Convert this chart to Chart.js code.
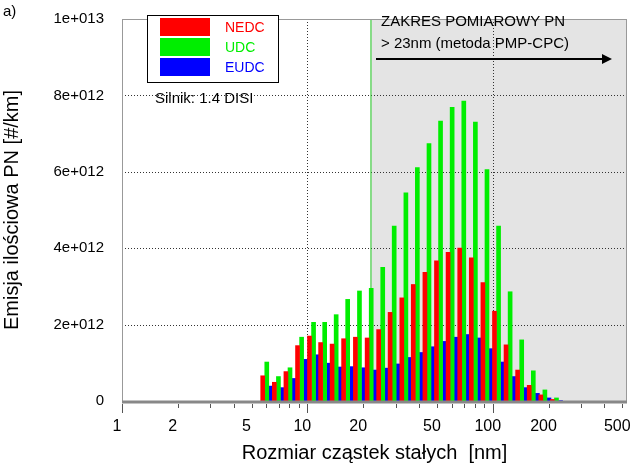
<!DOCTYPE html>
<html>
<head>
<meta charset="utf-8">
<script src="https://cdn.jsdelivr.net/npm/chart.js@4.4.0/dist/chart.umd.min.js"></script>
<style>
  body { margin: 0; background: #fff; }
  #wrap { width: 639px; height: 465px; }
</style>
</head>
<body>
<div id="wrap"><canvas id="c" width="639" height="465"></canvas></div>
<script>
// particle size bins [nm]
const sizes = [6.04, 6.98, 8.06, 9.31, 10.8, 12.4, 14.3, 16.5, 19.1, 22.1, 25.5, 29.4, 34.0,
  39.2, 45.3, 52.3, 60.4, 69.8, 80.6, 93.1, 107.5, 124.1, 143.3, 165.5, 191.1, 220.7];
// emissions in units of 1e12 #/km
const nedc = [0.66, 0.49, 0.77, 1.45, 1.70, 1.53, 1.49, 1.63, 1.67, 1.65, 1.87, 2.32, 2.70,
  3.05, 3.37, 3.67, 3.89, 4.00, 3.75, 3.10, 2.35, 1.47, 0.81, 0.41, 0.16, 0.04];
const udc = [1.02, 0.64, 0.87, 1.67, 2.06, 2.06, 2.26, 2.66, 2.88, 2.95, 3.50, 4.58, 5.45,
  6.11, 6.74, 7.33, 7.69, 7.85, 7.30, 6.06, 4.58, 2.86, 1.60, 0.79, 0.29, 0.08];
const eudc = [0.39, 0.35, 0.59, 1.09, 1.21, 0.99, 0.89, 0.90, 0.87, 0.81, 0.86, 0.97, 1.14,
  1.27, 1.42, 1.56, 1.67, 1.74, 1.65, 1.37, 1.02, 0.64, 0.35, 0.20, 0.08, 0.01];
const xTickLabels = [1, 2, 5, 10, 20, 50, 100, 200, 500];
const yTicks = [0, 2, 4, 6, 8, 10];

const FONT = 'Liberation Sans, Arial, sans-serif';
const shift = 0.022; // decades between bars in a group

function series(vals, off) {
  return vals.map((v, i) => ({ x: Math.log10(sizes[i]) + off, y: v * 1e12 }));
}

const minorTicks = [];
[1, 10, 100].forEach(d => { for (let k = 1; k <= 9; k++) if (d * k <= 500) minorTicks.push(d * k); });

const decor = {
  id: 'decor',
  beforeDatasetsDraw(chart) {
    const { ctx, chartArea: a, scales: { x, y } } = chart;
    const gx = x.getPixelForValue(Math.log10(21.9));
    ctx.save();
    ctx.fillStyle = '#e4e4e4';
    ctx.fillRect(gx, a.top, a.right - gx, a.bottom - a.top);
    ctx.strokeStyle = '#333';
    ctx.setLineDash([1, 2]);
    ctx.lineWidth = 1;
    // dotted grid, both directions
    [10, 100].forEach(v => {
      const px = Math.round(x.getPixelForValue(Math.log10(v))) + 0.5;
      ctx.beginPath(); ctx.moveTo(px, a.top); ctx.lineTo(px, a.bottom); ctx.stroke();
    });
    [2, 4, 6, 8].forEach(v => {
      const py = Math.round(y.getPixelForValue(v * 1e12)) + 0.5;
      ctx.beginPath(); ctx.moveTo(a.left, py); ctx.lineTo(a.right, py); ctx.stroke();
    });
    ctx.setLineDash([]);
    ctx.strokeStyle = '#22cc22';
    ctx.beginPath(); ctx.moveTo(gx + 0.5, a.top); ctx.lineTo(gx + 0.5, a.bottom); ctx.stroke();
    ctx.restore();
  },
  afterDraw(chart) {
    const { ctx, chartArea: a, scales: { x } } = chart;
    ctx.save();
    // frame
    ctx.strokeStyle = '#999';
    ctx.lineWidth = 1;
    ctx.strokeRect(a.left + 0.5, a.top + 0.5, a.right - a.left - 1, a.bottom - a.top);
    ctx.strokeStyle = '#888';
    ctx.lineWidth = 3;
    ctx.beginPath(); ctx.moveTo(a.left, a.bottom + 1); ctx.lineTo(a.right, a.bottom + 1); ctx.stroke();
    // x ticks
    ctx.lineWidth = 1;
    ctx.strokeStyle = '#555';
    minorTicks.forEach(v => {
      const px = Math.round(x.getPixelForValue(Math.log10(v))) + 0.5;
      const major = v === 1 || v === 10 || v === 100;
      ctx.beginPath(); ctx.moveTo(px, a.bottom + 3); ctx.lineTo(px, a.bottom + (major ? 12 : 7)); ctx.stroke();
    });
    ctx.fillStyle = '#000';
    ctx.font = '16px ' + FONT;
    ctx.textAlign = 'center';
    ctx.textBaseline = 'top';
    xTickLabels.forEach(v => ctx.fillText(String(v), x.getPixelForValue(Math.log10(v)) - 5, a.bottom + 18));
    // legend
    ctx.fillStyle = '#fff';
    ctx.fillRect(147, 15, 131, 67);
    ctx.strokeStyle = '#000';
    ctx.strokeRect(147.5, 15.5, 131, 67);
    const leg = [['NEDC', '#ff0000'], ['UDC', '#00ee00'], ['EUDC', '#0000ff']];
    ctx.font = '14px ' + FONT;
    ctx.textAlign = 'left';
    ctx.textBaseline = 'middle';
    leg.forEach((l, i) => {
      ctx.fillStyle = l[1];
      ctx.fillRect(160, 18 + i * 20, 50, 18);
      ctx.fillText(l[0], 225, 28 + i * 20);
    });
    ctx.fillStyle = '#000';
    ctx.font = '15px ' + FONT;
    ctx.fillText('Silnik: 1.4 DISI', 155, 99);
    ctx.fillText('a)', 3, 12);
    // range annotation
    ctx.fillText('ZAKRES POMIAROWY PN', 381, 22);
    ctx.fillText('> 23nm (metoda PMP-CPC)', 381, 44);
    ctx.lineWidth = 2;
    ctx.beginPath(); ctx.moveTo(376, 59); ctx.lineTo(608, 59); ctx.stroke();
    ctx.beginPath(); ctx.moveTo(612, 59); ctx.lineTo(602, 54); ctx.lineTo(602, 64); ctx.closePath(); ctx.fill();
    ctx.restore();
  }
};

new Chart(document.getElementById('c'), {
  type: 'bar',
  data: {
    datasets: [
      { label: 'NEDC', data: series(nedc, -shift), backgroundColor: '#ff0000' },
      { label: 'UDC', data: series(udc, 0), backgroundColor: '#00ee00' },
      { label: 'EUDC', data: series(eudc, shift), backgroundColor: '#0000ff' }
    ]
  },
  options: {
    responsive: false,
    animation: false,
    datasets: { bar: { grouped: false, barThickness: 4 } },
    layout: { padding: { top: 8, right: 12, left: 0, bottom: 0 } },
    plugins: { legend: { display: false }, tooltip: { enabled: false } },
    scales: {
      x: {
        type: 'linear', min: 0, max: Math.log10(530), offset: false,
        grid: { display: false }, border: { display: false },
        ticks: { display: false },
        afterFit(s) { s.height = 64; },
        title: { display: true, text: 'Rozmiar cząstek stałych  [nm]', color: '#000',
          font: { family: FONT, size: 20 }, padding: { top: 0, bottom: 0 } }
      },
      y: {
        min: 0, max: 1e13,
        afterBuildTicks(s) { s.ticks = yTicks.map(v => ({ value: v * 1e12 })); },
        afterFit(s) { s.width = 122; },
        border: { display: false },
        grid: { display: false },
        ticks: {
          color: '#000', padding: 10, font: { family: FONT, size: 15 },
          callback: v => v === 0 ? '0' : (v === 1e13 ? '1e+013' : (v / 1e12) + 'e+012')
        },
        title: { display: true, text: 'Emisja ilościowa PN [#/km]', color: '#000',
          font: { family: FONT, size: 20 }, padding: { top: 0, bottom: 2 } }
      }
    }
  },
  plugins: [decor]
});
</script>
</body>
</html>
